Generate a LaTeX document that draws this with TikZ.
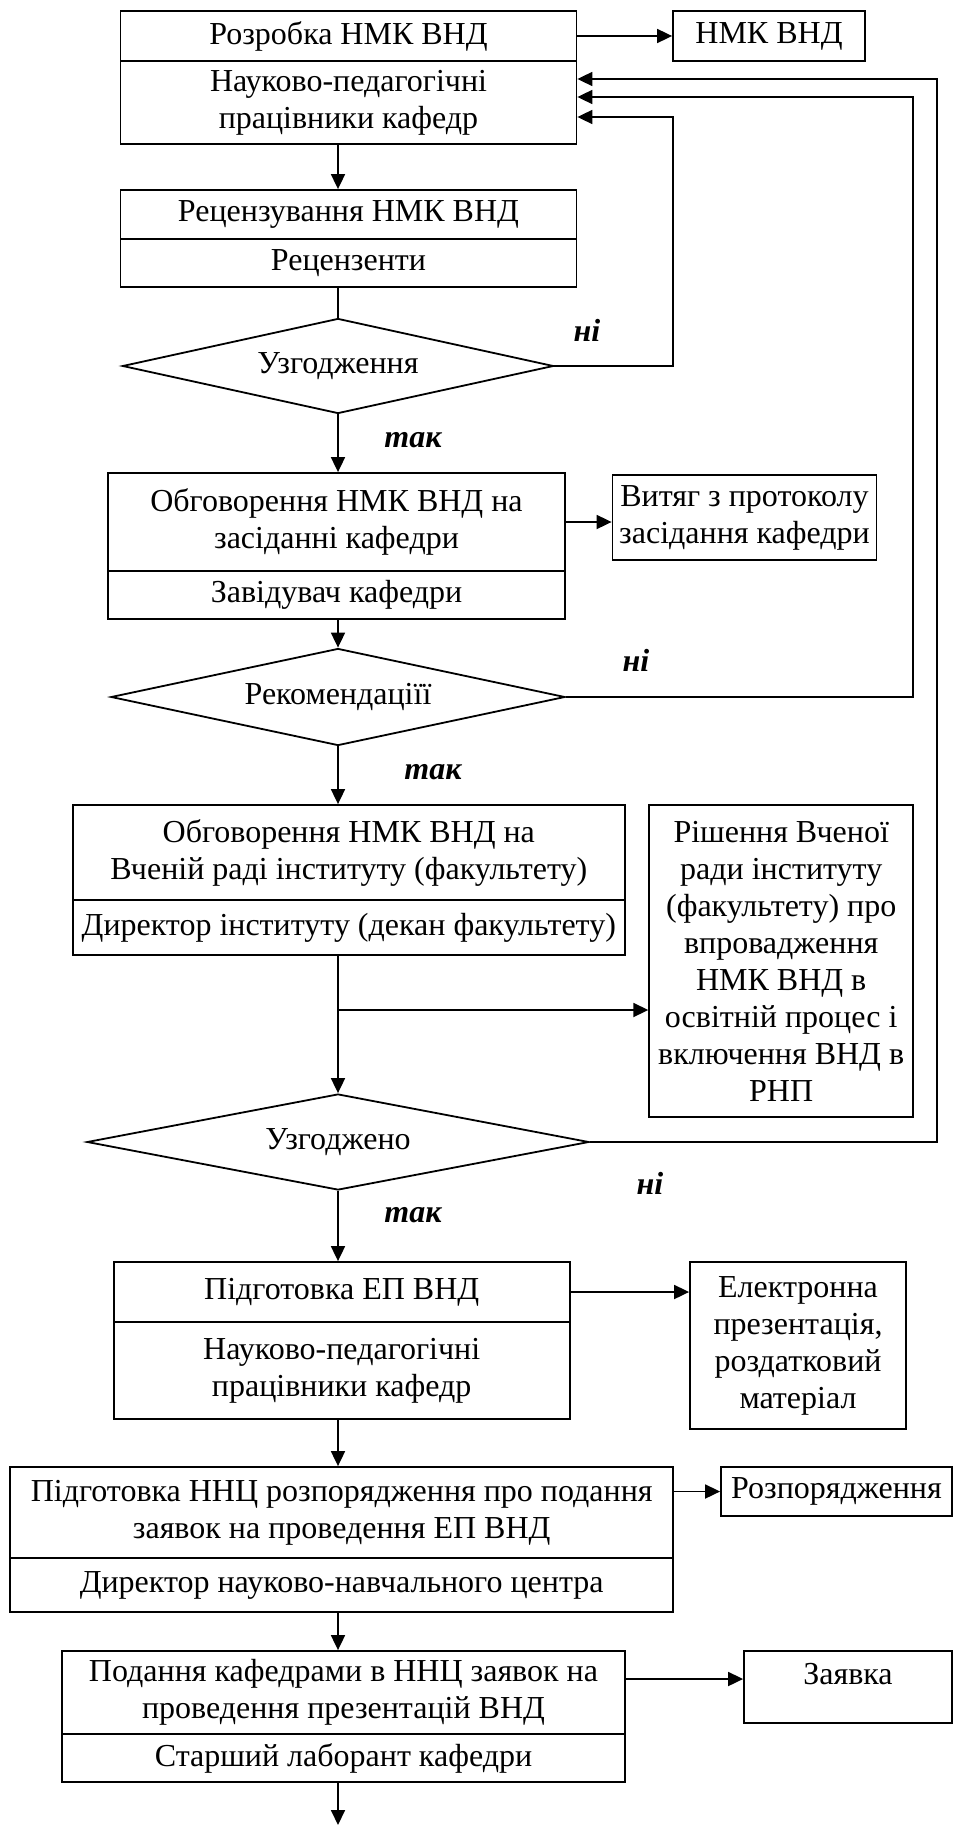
\documentclass[tikz,border=0pt]{standalone}
\usepackage{fontspec}
\setmainfont{Liberation Serif}
\usetikzlibrary{arrows.meta,shapes.geometric}
\newcommand\dfont{\fontsize{32}{37}\selectfont}
\tikzset{
  cell/.style={draw, line width=1.8pt, inner sep=0pt, align=center, font=\dfont},
  dia/.style={draw, diamond, line width=1.8pt, inner sep=0pt, font=\dfont, shape aspect=4.6},
  arr/.style={line width=1.8pt, -{Triangle[length=15pt,width=14pt]}},
  ln/.style={line width=1.8pt},
  lbl/.style={font=\dfont\bfseries\itshape, inner sep=0pt},
}
\begin{document}
\begin{tikzpicture}[x=1pt,y=-1pt]
\useasboundingbox (0,0) rectangle (953,1825);
% main column
\node[cell, minimum width=456pt, minimum height=50pt] (b1t) at (348.5,36) {Розробка НМК ВНД};
\node[cell, minimum width=456pt, minimum height=83pt] (b1b) at (348.5,102.5) {Науково-педагогічні\\працівники кафедр};
\node[cell, minimum width=192pt, minimum height=50pt] (nmk) at (769,36) {НМК ВНД};
\node[cell, minimum width=456pt, minimum height=49pt] (b2t) at (348.5,214.5) {Рецензування НМК ВНД};
\node[cell, minimum width=456pt, minimum height=48pt] (b2b) at (348.5,263) {Рецензенти};
\node[dia, minimum width=431pt, minimum height=95pt] (d1) at (338,366) {Узгодження};
\node[cell, minimum width=457pt, minimum height=98pt] (b3t) at (336.5,522) {Обговорення НМК ВНД на\\засіданні кафедри};
\node[cell, minimum width=457pt, minimum height=48pt] (b3b) at (336.5,595) {Завідувач кафедри};
\node[cell, minimum width=264pt, minimum height=85pt] (vit) at (744.5,517.5) {Витяг з протоколу\\засідання кафедри};
\node[dia, minimum width=454pt, minimum height=97pt] (d2) at (338,697) {Рекомендаціїї};
\node[cell, minimum width=552pt, minimum height=95pt] (b4t) at (348.8,852.5) {Обговорення НМК ВНД на\\Вченій раді інституту (факультету)};
\node[cell, minimum width=552pt, minimum height=55pt] (b4b) at (348.8,927.5) {Директор інституту (декан факультету)};
\node[cell, minimum width=264pt, minimum height=312pt] (rish) at (781.2,961) {Рішення Вченої\\ради інституту\\(факультету) про\\впровадження\\НМК ВНД в\\освітній процес і\\включення ВНД в\\РНП};
\node[dia, minimum width=502pt, minimum height=96pt] (d3) at (338,1142) {Узгоджено};
\node[cell, minimum width=456pt, minimum height=60pt] (b5t) at (341.7,1292) {Підготовка ЕП ВНД};
\node[cell, minimum width=456pt, minimum height=97pt] (b5b) at (341.7,1370.5) {Науково-педагогічні\\працівники кафедр};
\node[cell, minimum width=216pt, minimum height=167pt] (elek) at (798,1345.5) {Електронна\\презентація,\\роздатковий\\матеріал};
\node[cell, minimum width=663pt, minimum height=91pt] (b6t) at (341.7,1512.5) {Підготовка ННЦ розпорядження про подання\\заявок на проведення ЕП ВНД};
\node[cell, minimum width=663pt, minimum height=54pt] (b6b) at (341.7,1585) {Директор науково-навчального центра};
\node[cell, minimum width=231pt, minimum height=49pt] (rozp) at (836.5,1491.5) {Розпорядження};
\node[cell, minimum width=563pt, minimum height=83pt] (b7t) at (343.5,1692.5) {Подання кафедрами в ННЦ заявок на\\проведення презентацій ВНД};
\node[cell, minimum width=563pt, minimum height=48pt] (b7b) at (343.5,1758) {Старший лаборант кафедри};
\node[cell, minimum width=208pt, minimum height=72pt, text depth=26pt] (zay) at (848,1687) {Заявка};
% labels
\node[lbl] (n1) at (587,330) {ні};
\node[lbl] (t1) at (413,440) {так};
\node[lbl] (n2) at (636,660) {ні};
\node[lbl] (t2) at (433,772) {так};
\node[lbl] (n3) at (650,1183) {ні};
\node[lbl] (t3) at (413,1215) {так};
% helper coordinates
\coordinate (mx) at (338,0);
\coordinate (k1) at (673,117);
\coordinate (k2) at (913,97);
\coordinate (k3) at (937,79);
\coordinate (br) at (338,1010);
\coordinate (end) at (338,1825);
% vertical flow
\draw[arr] (b1b.south -| mx) -- (b2t.north -| mx);
\draw[ln] (b2b.south -| mx) -- (d1.north);
\draw[arr] (d1.south) -- (b3t.north -| mx);
\draw[arr] (b3b.south -| mx) -- (d2.north);
\draw[arr] (d2.south) -- (b4t.north -| mx);
\draw[arr] (b4b.south -| mx) -- (d3.north);
\draw[arr] (d3.south) -- (b5t.north -| mx);
\draw[arr] (b5b.south -| mx) -- (b6t.north -| mx);
\draw[arr] (b6b.south -| mx) -- (b7t.north -| mx);
\draw[arr] (b7b.south -| mx) -- (end);
% side outputs
\draw[arr] (b1t.east) -- (nmk.west);
\draw[arr] (b3t.east) -- (b3t.east -| vit.west);
\draw[arr] (br) -- (br -| rish.west);
\draw[arr] (b5t.east) -- (b5t.east -| elek.west);
\draw[arr] (rozp.west -| b6t.east) -- (rozp.west);
\draw[arr] ([yshift=8pt]zay.west -| b7t.east) -- ([yshift=8pt]zay.west);
% feedback loops
\draw[arr] (d1.east) -| (k1) -- (k1 -| b1b.east);
\draw[arr] (d2.east) -| (k2) -- (k2 -| b1b.east);
\draw[arr] (d3.east) -| (k3) -- (k3 -| b1b.east);
\end{tikzpicture}
\end{document}
